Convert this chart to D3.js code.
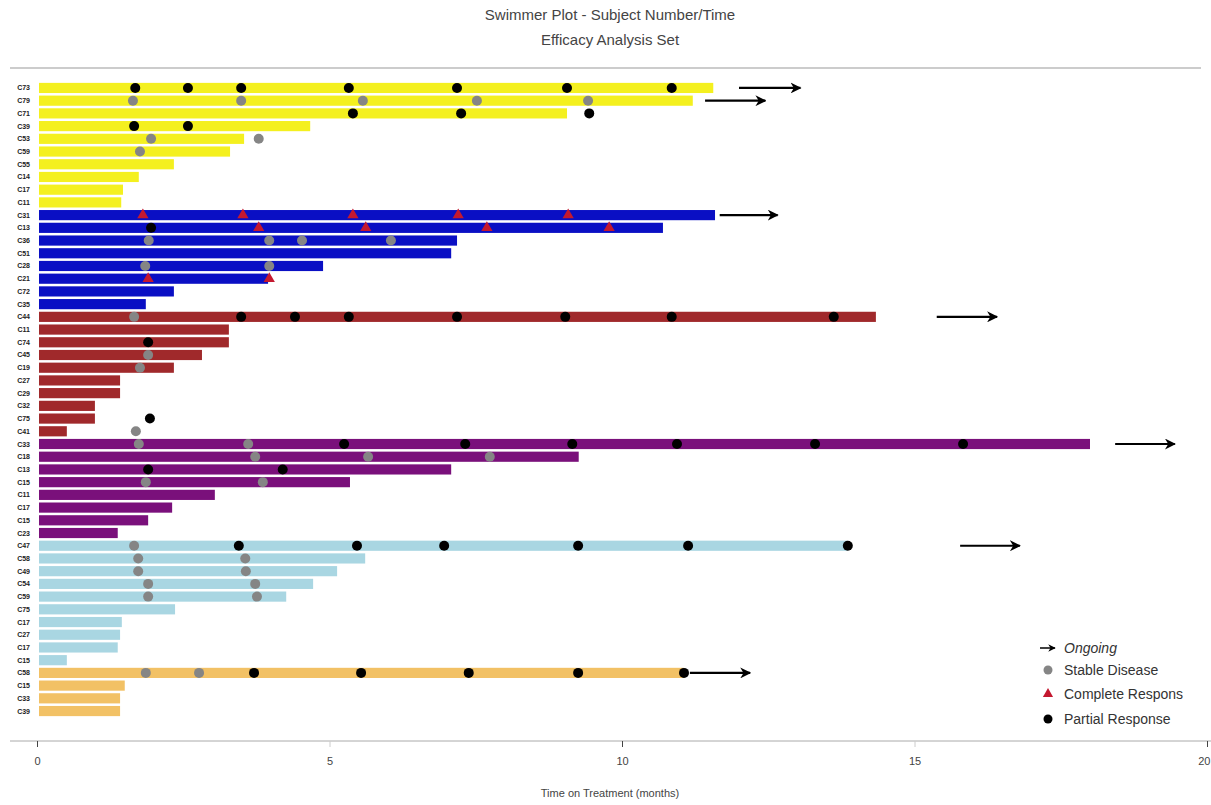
<!DOCTYPE html>
<html>
<head>
<meta charset="utf-8">
<script src="https://cdn.jsdelivr.net/npm/d3@7/dist/d3.min.js"></script>
<style>
  html, body { margin: 0; padding: 0; background: #fff; }
  svg { display: block; font-family: "Liberation Sans", Arial, sans-serif; }
</style>
</head>
<body>
<svg id="chart" width="1211" height="805"></svg>
<script>
// Subjects, top to bottom, with their treatment cohort
const subjects = ["C73","C79","C71","C39","C53","C59","C55","C14","C17","C11",
                  "C31","C13","C36","C51","C28","C21","C72","C35",
                  "C44","C11","C74","C45","C19","C27","C29","C32","C75","C41",
                  "C33","C18","C13","C15","C11","C17","C15","C23",
                  "C47","C58","C49","C54","C59","C75","C17","C27","C17","C15",
                  "C58","C15","C33","C39"];
const cohorts = [0,0,0,0,0,0,0,0,0,0,
                 1,1,1,1,1,1,1,1,
                 2,2,2,2,2,2,2,2,2,2,
                 3,3,3,3,3,3,3,3,
                 4,4,4,4,4,4,4,4,4,4,
                 5,5,5,5];
const cohortColors = ["#f4f01f","#0a0fc4","#a0292b","#7a107b","#a9d6e2","#f2c165"];

// Months on treatment
const durations = [11.56,11.21,9.06,4.67,3.54,3.30,2.34,1.74,1.47,1.44,
                   11.59,10.70,7.18,7.08,4.89,3.95,2.34,1.86,
                   14.34,3.28,3.28,2.82,2.34,1.42,1.42,0.99,0.99,0.51,
                   18.00,9.26,7.08,5.35,3.04,2.31,1.90,1.38,
                   13.86,5.61,5.13,4.72,4.26,2.36,1.45,1.42,1.38,0.51,
                   11.06,1.50,1.42,1.42];

// Ongoing subjects: [row, arrow start, arrow end] in months
const ongoing = [[0,12.0,13.05],[1,11.42,12.45],[10,11.67,12.66],
                 [18,15.38,16.41],[28,18.43,19.45],[36,15.78,16.80],[46,11.16,12.19]];

// Assessment times (months) per row
const stableDisease = [
  [1,[1.64,3.49,5.57,7.52,9.42]], [4,[1.95,3.79]], [5,[1.76]],
  [12,[1.91,3.97,4.53,6.05]], [14,[1.85,3.97]],
  [18,[1.66]], [21,[1.90]], [22,[1.76]], [27,[1.69]],
  [28,[1.74,3.61]], [29,[3.73,5.66,7.74]], [31,[1.86,3.86]],
  [36,[1.66]], [37,[1.73,3.56]], [38,[1.73,3.57]], [39,[1.90,3.73]], [40,[1.90,3.76]],
  [46,[1.86,2.77]]
];
const completeResponse = [
  [10,[1.81,3.52,5.40,7.20,9.08]], [11,[3.79,5.62,7.69,9.78]], [15,[1.90,3.97]]
];
const partialResponse = [
  [0,[1.68,2.58,3.49,5.33,7.18,9.06,10.85]], [2,[5.40,7.25,9.44]], [3,[1.66,2.58]],
  [11,[1.95]],
  [18,[3.49,4.41,5.33,7.18,9.03,10.85,13.62]], [20,[1.90]], [26,[1.93]],
  [28,[5.25,7.32,9.15,10.94,13.30,15.83]], [30,[1.90,4.20]],
  [36,[3.45,5.47,6.96,9.25,11.13,13.86]],
  [46,[3.71,5.54,7.38,9.25,11.06]]
];

const xTicks = [0,5,10,15,20];
const legendLabels = ["Ongoing","Stable Disease","Complete Respons","Partial Response"];

const svg = d3.select("#chart");

const x = d3.scaleLinear().domain([0,20]).range([37,1207]);
const y = d3.scaleBand().domain(d3.range(subjects.length)).range([81.6,717.4]).paddingInner(0.2).paddingOuter(0.1);
const yc = i => y(i) + y.bandwidth()/2;

// Title block
svg.append("text").attr("x",610).attr("y",20).attr("text-anchor","middle")
  .attr("font-size",15).attr("fill","#444").text("Swimmer Plot - Subject Number/Time");
svg.append("text").attr("x",610).attr("y",45).attr("text-anchor","middle")
  .attr("font-size",15).attr("fill","#444").text("Efficacy Analysis Set");
svg.append("line").attr("x1",10).attr("x2",1201).attr("y1",68).attr("y2",68)
  .attr("stroke","#999").attr("stroke-width",1);

// Arrow marker
svg.append("defs").append("marker")
  .attr("id","arrowHead").attr("viewBox","0 0 10 10").attr("refX",9).attr("refY",5)
  .attr("markerWidth",5).attr("markerHeight",5).attr("orient","auto")
  .append("path").attr("d","M0,0 L10,5 L0,10 L3,5 Z").attr("fill","#000");

// Bars
svg.append("g").selectAll("rect").data(durations).join("rect")
  .attr("x", x(0) + 2)
  .attr("y", (d,i) => y(i))
  .attr("width", d => x(d) - x(0) - 2)
  .attr("height", y.bandwidth())
  .attr("fill", (d,i) => cohortColors[cohorts[i]]);

// Subject labels
svg.append("g").selectAll("text").data(subjects).join("text")
  .attr("x", 30).attr("y", (d,i) => yc(i) + 2.5)
  .attr("text-anchor","end").attr("font-size",7).attr("font-weight","bold")
  .attr("fill","#222").text(d => d);

// Ongoing arrows
svg.append("g").selectAll("line").data(ongoing).join("line")
  .attr("x1", d => x(d[1])).attr("x2", d => x(d[2]))
  .attr("y1", d => yc(d[0])).attr("y2", d => yc(d[0]))
  .attr("stroke","#000").attr("stroke-width",2.2)
  .attr("marker-end","url(#arrowHead)");

const flat = arr => arr.flatMap(([r, ts]) => ts.map(t => ({r, t})));

// Stable disease
svg.append("g").selectAll("circle").data(flat(stableDisease)).join("circle")
  .attr("cx", d => x(d.t)).attr("cy", d => yc(d.r)).attr("r",5)
  .attr("fill","#858585");

// Complete response
const tri = d3.symbol().type(d3.symbolTriangle).size(55);
svg.append("g").selectAll("path").data(flat(completeResponse)).join("path")
  .attr("d", tri)
  .attr("transform", d => `translate(${x(d.t)},${yc(d.r)})`)
  .attr("fill","#c4182f");

// Partial response
svg.append("g").selectAll("circle").data(flat(partialResponse)).join("circle")
  .attr("cx", d => x(d.t)).attr("cy", d => yc(d.r)).attr("r",5)
  .attr("fill","#000");

// X axis
const axisY = 741;
svg.append("line").attr("x1",10).attr("x2",1211).attr("y1",axisY).attr("y2",axisY)
  .attr("stroke","#aaa").attr("stroke-width",1);
const ax = svg.append("g").attr("transform",`translate(0,${axisY})`)
  .call(d3.axisBottom(x).tickValues(xTicks).tickSize(6).tickPadding(10).tickFormat(d3.format("d")));
ax.select(".domain").remove();
ax.selectAll(".tick line").attr("stroke", d => (d % 10 === 0 ? "#444" : "#ccc"));
ax.selectAll(".tick text").attr("font-size",11).attr("fill","#444")
  .attr("font-family","Liberation Sans, Arial, sans-serif")
  .attr("text-anchor", d => d === 20 ? "end" : "middle")
  .attr("dx", d => d === 20 ? 3 : 0);
svg.append("text").attr("x",610).attr("y",797).attr("text-anchor","middle")
  .attr("font-size",11).attr("fill","#444").text("Time on Treatment (months)");

// Legend
const lg = svg.append("g").attr("transform","translate(1040,0)");
const ly = [648,670,694,719];
lg.append("line").attr("x1",0).attr("x2",15).attr("y1",ly[0]).attr("y2",ly[0])
  .attr("stroke","#000").attr("stroke-width",1.5).attr("marker-end","url(#arrowHead)");
lg.append("circle").attr("cx",8).attr("cy",ly[1]).attr("r",4.5).attr("fill","#858585");
lg.append("path").attr("d",d3.symbol().type(d3.symbolTriangle).size(45))
  .attr("transform",`translate(8,${ly[2]})`).attr("fill","#c4182f");
lg.append("circle").attr("cx",8).attr("cy",ly[3]).attr("r",4.5).attr("fill","#000");
lg.selectAll("text.lbl").data(legendLabels).join("text").attr("class","lbl")
  .attr("x",24).attr("y",(d,i) => ly[i] + 5)
  .attr("font-size",14).attr("fill","#333")
  .attr("font-style",(d,i) => i === 0 ? "italic" : "normal")
  .text(d => d);
</script>
</body>
</html>
